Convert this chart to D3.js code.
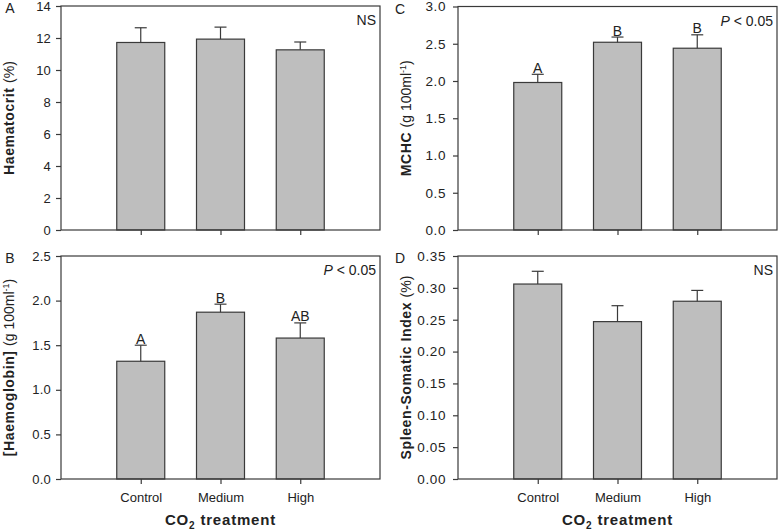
<!DOCTYPE html>
<html>
<head>
<meta charset="utf-8">
<script src="https://cdn.jsdelivr.net/npm/d3@7"></script>
<style>
  body { margin: 0; background: #fff; }
  svg { display: block; font-family: "Liberation Sans", Arial, sans-serif; }
</style>
</head>
<body>
<svg id="chart" width="780" height="531"></svg>
<script>
// ---- Data ----
const categories = ["Control", "Medium", "High"];

const haematocritMean = [11.72, 11.93, 11.26];
const haematocritErr  = [12.64, 12.68, 11.75];
const haematocritTicks = [0, 2, 4, 6, 8, 10, 12, 14];

const haemoglobinMean = [1.32, 1.87, 1.58];
const haemoglobinErr  = [1.50, 1.96, 1.75];
const haemoglobinTicks = [0.0, 0.5, 1.0, 1.5, 2.0, 2.5];
const haemoglobinLetters = ["A", "B", "AB"];

const mchcMean = [1.98, 2.52, 2.44];
const mchcErr  = [2.09, 2.59, 2.62];
const mchcTicks = [0.0, 0.5, 1.0, 1.5, 2.0, 2.5, 3.0];
const mchcLetters = ["A", "B", "B"];

const ssiMean = [0.306, 0.247, 0.279];
const ssiErr  = [0.326, 0.272, 0.296];
const ssiTicks = [0.00, 0.05, 0.10, 0.15, 0.20, 0.25, 0.30, 0.35];

// ---- Layout ----
const svg = d3.select("#chart");
const barFill = "#bebebe", dark = "#3a3a3a", textCol = "#222";

const panels = [
  { id: "A", mean: haematocritMean, err: haematocritErr, ticks: haematocritTicks, fmt: d3.format("d"),
    box: { l: 61, r: 380, t: 6, b: 230 }, max: 14, right: false,
    label: [["Haematocrit ", "bold"], ["(%)", "normal"]], sig: "NS", letters: null, xlab: false },
  { id: "B", mean: haemoglobinMean, err: haemoglobinErr, ticks: haemoglobinTicks, fmt: d3.format(".1f"),
    box: { l: 61, r: 380, t: 256, b: 479 }, max: 2.5, right: false,
    label: [["[Haemoglobin] ", "bold"], ["(g 100ml", "normal"], ["-1", "sup"], [")", "normal"]], sig: "P", letters: haemoglobinLetters, xlab: true },
  { id: "C", mean: mchcMean, err: mchcErr, ticks: mchcTicks, fmt: d3.format(".1f"),
    box: { l: 458, r: 777, t: 6.5, b: 230 }, max: 3.0, right: true,
    label: [["MCHC ", "bold"], ["(g 100ml", "normal"], ["-1", "sup"], [")", "normal"]], sig: "P", letters: mchcLetters, xlab: false },
  { id: "D", mean: ssiMean, err: ssiErr, ticks: ssiTicks, fmt: d3.format(".2f"),
    box: { l: 458, r: 777, t: 256, b: 479 }, max: 0.35, right: true,
    label: [["Spleen-Somatic Index ", "bold"], ["(%)", "normal"]], sig: "NS", letters: null, xlab: true }
];

panels.forEach(p => {
  const b = p.box;
  const fw = b.r - b.l;
  const x = d3.scalePoint().domain(categories).range([b.l + fw / 4, b.r - fw / 4]);
  const y = d3.scaleLinear().domain([0, p.max]).range([b.b, b.t]);
  const g = svg.append("g");
  const bw = 48;

  // bars
  g.selectAll("rect.bar").data(categories).enter().append("rect")
    .attr("x", d => x(d) - bw / 2)
    .attr("y", (d, i) => y(p.mean[i]))
    .attr("width", bw)
    .attr("height", (d, i) => y(0) - y(p.mean[i]))
    .attr("fill", barFill).attr("stroke", dark).attr("stroke-width", 1.2);

  // error bars
  g.selectAll("line.eb").data(categories).enter().append("line")
    .attr("x1", d => x(d)).attr("x2", d => x(d))
    .attr("y1", (d, i) => y(p.mean[i])).attr("y2", (d, i) => y(p.err[i]))
    .attr("stroke", dark).attr("stroke-width", 1.2);
  g.selectAll("line.cap").data(categories).enter().append("line")
    .attr("x1", d => x(d) - 6).attr("x2", d => x(d) + 6)
    .attr("y1", (d, i) => y(p.err[i])).attr("y2", (d, i) => y(p.err[i]))
    .attr("stroke", dark).attr("stroke-width", 1.2);

  // letters
  if (p.letters) {
    g.selectAll("text.let").data(categories).enter().append("text")
      .attr("x", d => x(d)).attr("y", (d, i) => y(p.err[i]) - 1.5)
      .attr("text-anchor", "middle").attr("font-size", 14).attr("fill", textCol)
      .text((d, i) => p.letters[i]);
  }

  // frame
  g.append("rect").attr("x", b.l).attr("y", b.t).attr("width", b.r - b.l).attr("height", b.b - b.t)
    .attr("fill", "none").attr("stroke", dark).attr("stroke-width", 1.2);

  // y axis
  const yAxis = d3.axisLeft(y).tickValues(p.ticks).tickFormat(p.fmt).tickSize(5).tickPadding(p.right ? 7 : 5);
  const ya = g.append("g").attr("transform", `translate(${b.l},0)`).call(yAxis);
  ya.select(".domain").remove();
  ya.selectAll("line").attr("stroke", dark).attr("stroke-width", 1.2);
  ya.selectAll("text").attr("font-size", p.right ? 13.5 : 13).attr("letter-spacing", p.right ? 0.6 : 0.2)
    .attr("fill", textCol).attr("font-family", "Liberation Sans, Arial, sans-serif");

  // x axis
  const xAxis = d3.axisBottom(x).tickSize(5).tickPadding(9);
  const xa = g.append("g").attr("transform", `translate(0,${b.b})`).call(xAxis);
  xa.select(".domain").remove();
  xa.selectAll("line").attr("stroke", dark).attr("stroke-width", 1.2);
  xa.selectAll("text").attr("font-size", 13).attr("fill", textCol).attr("font-family", "Liberation Sans, Arial, sans-serif")
    .style("display", p.xlab ? null : "none");

  // panel letter
  g.append("text").attr("x", p.right ? 400 : 10).attr("y", b.t + 7)
    .attr("text-anchor", "middle").attr("font-size", 14).attr("fill", textCol).text(p.id);

  // y label
  const lx = p.right ? 411 : 14;
  const yl = g.append("text").attr("transform", `translate(${lx},${(b.t + b.b) / 2}) rotate(-90)`)
    .attr("text-anchor", "middle").attr("font-size", 14).attr("fill", textCol);
  p.label.forEach(([t, s]) => {
    const ts = yl.append("tspan").text(t);
    if (s === "bold") ts.attr("font-weight", "bold").attr("letter-spacing", 0.6);
    if (s === "sup") ts.attr("font-size", 9).attr("baseline-shift", "super");
  });

  // significance
  const st = g.append("text").attr("x", b.r - 4).attr("y", b.t + 19)
    .attr("text-anchor", "end").attr("font-size", 14).attr("fill", textCol);
  if (p.sig === "NS") st.text("NS");
  else { st.append("tspan").attr("font-style", "italic").text("P"); st.append("tspan").text(" < 0.05"); }

  // x title
  if (p.xlab) {
    const xt = g.append("text").attr("x", (b.l + b.r) / 2).attr("y", b.b + 46)
      .attr("text-anchor", "middle").attr("font-size", 15).attr("font-weight", "bold")
      .attr("letter-spacing", 0.8).attr("fill", textCol);
    xt.append("tspan").text("CO");
    xt.append("tspan").attr("font-size", 10).attr("dy", 4).text("2");
    xt.append("tspan").attr("dy", -4).text(" treatment");
  }
});
</script>
</body>
</html>
